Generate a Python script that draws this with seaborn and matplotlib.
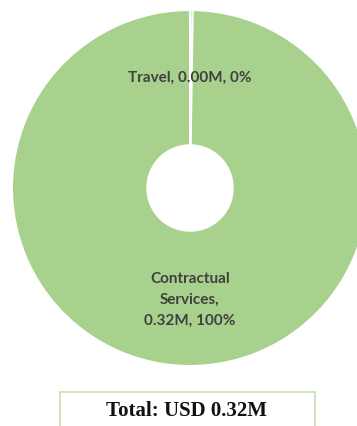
import matplotlib
matplotlib.use("Agg")
import matplotlib.pyplot as plt
import seaborn as sns
from matplotlib.patches import Rectangle

categories = ["Travel", "Contractual Services"]
values = [0.0008, 0.32]
label_texts = ["Travel, 0.00M, 0%", "Contractual\nServices,\n0.32M, 100%"]
total_text = "Total: USD 0.32M"

sns.set_theme(style="white")
plt.rcParams['font.family'] = ['Lato', 'DejaVu Sans']

W, H = 357, 426
fig = plt.figure(figsize=(W / 100, H / 100), dpi=100)
fig.patch.set_facecolor("white")

cx, cy, r = 190, 188, 178
ax = fig.add_axes([(cx - r) / W, (H - cy - r) / H, 2 * r / W, 2 * r / H])
colors = ["#A9D18E", "#A9D18E"]
wedges, _ = ax.pie(values, colors=colors, startangle=90, counterclock=False,
                   radius=1, wedgeprops=dict(width=0.76, edgecolor="white", linewidth=1.5))
ax.set_xlim(-1, 1)
ax.set_ylim(-1, 1)
ax.set_aspect("equal")
ax.axis("off")
for w in wedges:
    w.set_clip_on(False)

ax.text(0, (cy - 78) / r, label_texts[0], ha="center", va="center",
        fontsize=11, fontweight="bold", color="#404040")
ax.text(0, (cy - 300) / r, label_texts[1], ha="center", va="center",
        fontsize=11, fontweight="bold", color="#404040", linespacing=1.66)

fig.patches.append(Rectangle((60 / W, -0.05), (315 - 60) / W, (H - 392) / H + 0.05,
                             transform=fig.transFigure, fill=False,
                             edgecolor="#C5E0B4", linewidth=1.2))
fig.text(187 / W, 1 - 411 / H, total_text, ha="center", va="center",
         fontsize=15, fontweight="bold", family=["Liberation Serif", "DejaVu Serif"],
         color="#111111")

fig.savefig("out.png", dpi=100)
